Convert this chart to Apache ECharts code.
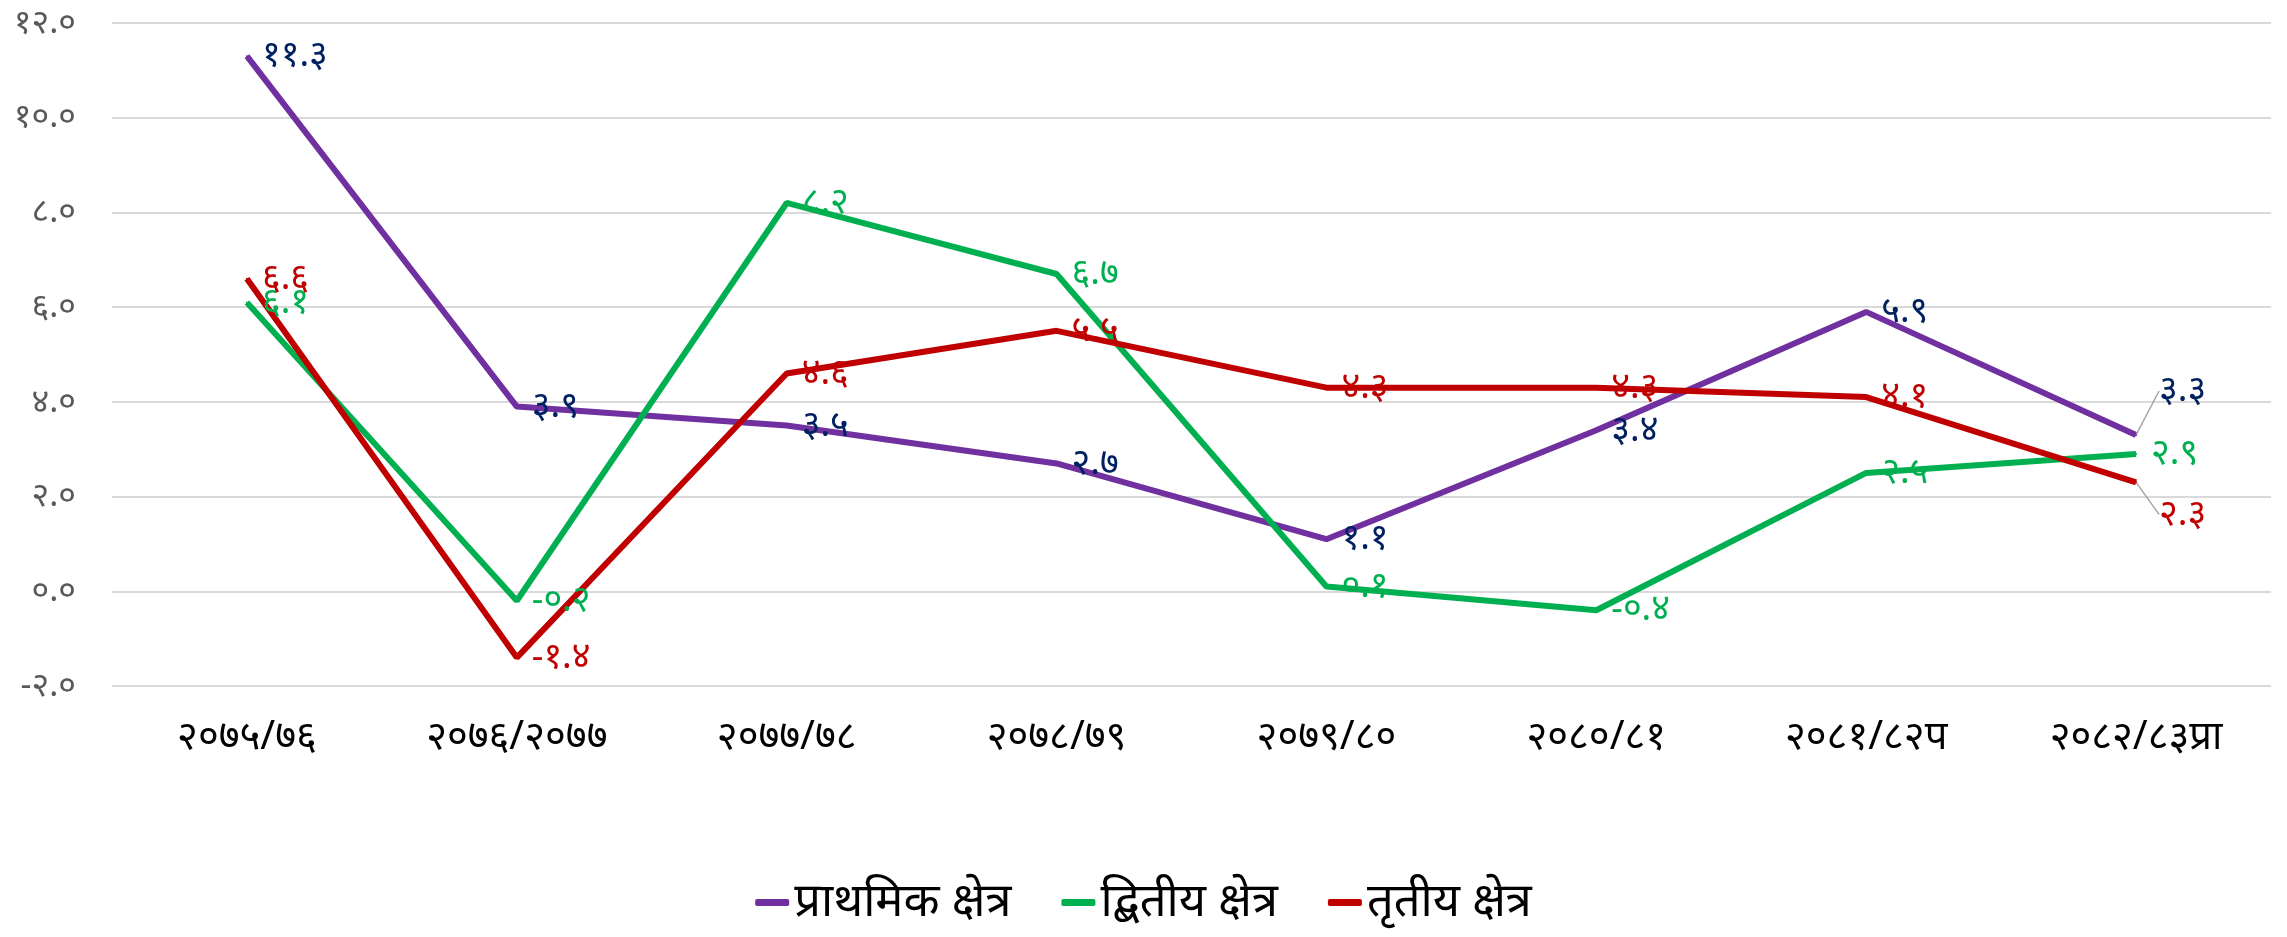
<!DOCTYPE html>
<html>
<head>
<meta charset="utf-8">
<script src="https://cdn.jsdelivr.net/npm/echarts@6/dist/echarts.min.js"></script>
<style>
  html, body { margin: 0; padding: 0; background: #fff; }
  #chart { width: 2287px; height: 937px; }
</style>
</head>
<body>
<div id="chart"></div>
<script>
// वर्ष
var categories = ["२०७५/७६", "२०७६/२०७७", "२०७७/७८", "२०७८/७९", "२०७९/८०", "२०८०/८१", "२०८१/८२प", "२०८२/८३प्रा"];

var primary = [11.3, 3.9, 3.5, 2.7, 1.1, 3.4, 5.9, 3.3];
var secondary = [6.1, -0.2, 8.2, 6.7, 0.1, -0.4, 2.5, 2.9];
var tertiary = [6.6, -1.4, 4.6, 5.5, 4.3, 4.3, 4.1, 2.3];

var seriesNames = ["प्राथमिक क्षेत्र", "द्बितीय क्षेत्र", "तृतीय क्षेत्र"];

var yMin = -2, yMax = 12, yStep = 2;

var digits = "०१२३४५६७८९";
function toNep(n, dec) {
  var s = Number(n).toFixed(dec);
  return s.replace(/[0-9]/g, function (d) { return digits[+d]; });
}

var fontFam = "'Noto Sans', 'DejaVu Sans', sans-serif";
var last = categories.length - 1;

// last point labels are pulled off the line with a leader
function lastShift(dx, dy) {
  return function (p) {
    if (p.dataIndex === last) return { dx: dx, dy: dy };
    return {};
  };
}

function mkSeries(name, data, lineColor, labelColor, shift, leader) {
  var items = data.map(function (v, i) {
    if (i === last && leader) return { value: v, labelLine: { show: true } };
    return v;
  });
  return {
    name: name,
    type: "line",
    data: items,
    symbol: "circle",
    symbolSize: 2,
    showSymbol: true,
    lineStyle: { color: lineColor, width: 6 },
    itemStyle: { color: lineColor },
    label: {
      show: true,
      position: "right",
      distance: 14,
      color: labelColor,
      fontSize: 36,
      fontFamily: fontFam,
      formatter: function (p) { return toNep(p.value, 1); }
    },
    labelLine: { show: false, lineStyle: { color: "#a6a6a6", width: 1.5 } },
    labelLayout: shift,
    z: 2
  };
}

var chart = echarts.init(document.getElementById("chart"));
chart.setOption({
  animation: false,
  grid: { left: 112, right: 16, top: 23, bottom: 251, containLabel: false },
  legend: {
    bottom: 6,
    itemWidth: 34,
    itemHeight: 7,
    itemGap: 50,
    icon: "roundRect",
    textStyle: { color: "#000", fontSize: 47, fontFamily: fontFam },
    data: seriesNames
  },
  xAxis: {
    type: "category",
    data: categories,
    boundaryGap: true,
    axisLine: { show: false },
    axisTick: { show: false },
    axisLabel: { color: "#000", fontSize: 40, fontFamily: fontFam, margin: 32, interval: 0 }
  },
  yAxis: {
    type: "value",
    min: yMin,
    max: yMax,
    interval: yStep,
    axisLine: { show: false },
    axisTick: { show: false },
    splitLine: { lineStyle: { color: "#d9d9d9", width: 2 } },
    axisLabel: {
      color: "#595959",
      fontSize: 34,
      fontFamily: fontFam,
      margin: 36,
      formatter: function (v) { return toNep(v, 1); }
    }
  },
  series: [
    mkSeries(seriesNames[0], primary, "#7030a0", "#002060", lastShift(8, -44), true),
    mkSeries(seriesNames[1], secondary, "#00b050", "#00b050", lastShift(0, 0), false),
    mkSeries(seriesNames[2], tertiary, "#c00000", "#c00000", lastShift(8, 32), true)
  ]
});
</script>
</body>
</html>
